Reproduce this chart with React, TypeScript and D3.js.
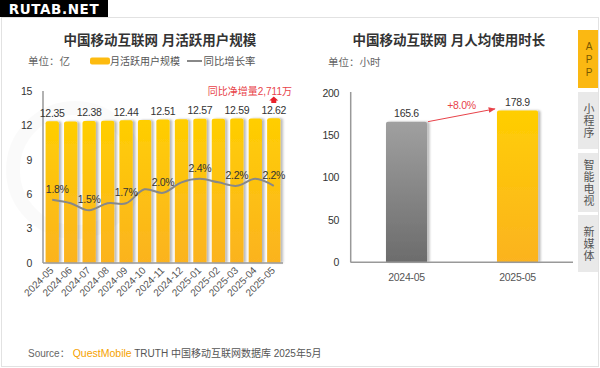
import React from "react";
import * as d3 from "d3";

const months = ["2024-05","2024-06","2024-07","2024-08","2024-09","2024-10","2024-11","2024-12","2025-01","2025-02","2025-03","2025-04","2025-05"];
const mau = [12.35, 12.33, 12.38, 12.41, 12.44, 12.47, 12.51, 12.54, 12.57, 12.58, 12.59, 12.60, 12.62];
const mauLabelShown = [true,false,true,false,true,false,true,false,true,false,true,false,true];
const rates = [1.8, 1.7, 1.5, 1.7, 1.7, 2.1, 2.0, 2.3, 2.4, 2.3, 2.2, 2.4, 2.2];
const rateLabelShown = [true,false,true,false,true,false,true,false,true,false,true,false,true];
const leftTicks = [0, 3, 6, 9, 12, 15];

const periods = ["2024-05", "2025-05"];
const hours = [165.6, 178.9];
const growthLabel = "+8.0%";
const rightTicks = [0, 50, 100, 150, 200];

const tabs = ["APP", "小程序", "智能电视", "新媒体"];

const F = "'Liberation Sans', Arial, 'Noto Sans CJK SC', sans-serif";
const NUM = { fontSize: 10.5, letterSpacing: -0.3 };

function topRoundedBar(x: number, y: number, w: number, h: number, r: number) {
  const rr = Math.min(r, w / 2, h);
  return `M${x},${y + h}V${y + rr}Q${x},${y} ${x + rr},${y}H${x + w - rr}Q${x + w},${y} ${x + w},${y + rr}V${y + h}Z`;
}

export default function App() {
  const xL = d3.scaleBand<string>().domain(months).range([43, 283]).paddingInner(0.28).paddingOuter(0.14);
  const yL = d3.scaleLinear().domain([0, 15]).range([262.7, 91]);
  const yR = d3.scaleLinear().domain([0, 5]).range([262.7, 88]);
  const line = d3
    .line<number>()
    .x((_, i) => (xL(months[i]) as number) + xL.bandwidth() / 2)
    .y((d) => yR(d))
    .curve(d3.curveCatmullRom.alpha(0.5));

  const xP = d3.scaleBand<string>().domain(periods).range([351, 573]).paddingInner(0.63).paddingOuter(0.315);
  const yP = d3.scaleLinear().domain([0, 200]).range([262, 92.5]);

  const arrowX1 = (xP(periods[0]) as number) + xP.bandwidth() + 1;
  const arrowY1 = yP(hours[0]);
  const arrowX2 = (xP(periods[1]) as number) - 2;
  const arrowY2 = yP(hours[1]) - 1.5;

  const tabY = [30, 92, 153, 215];
  const tabH = [58, 57, 59, 57];

  return (
    <svg width={600} height={368} style={{ position: "absolute", left: 0, top: 0, background: "#fff" }} fontFamily={F}>
      <defs>
        <linearGradient id="yg" x1="0" y1="0" x2="0" y2="1">
          <stop offset="0%" stopColor="#FFCE02" />
          <stop offset="100%" stopColor="#FBB320" />
        </linearGradient>
        <linearGradient id="gg" x1="0" y1="0" x2="0" y2="1">
          <stop offset="0%" stopColor="#A0A0A0" />
          <stop offset="100%" stopColor="#6C6C6C" />
        </linearGradient>
        <filter id="sh" x="-30%" y="-10%" width="170%" height="120%">
          <feDropShadow dx="2.5" dy="0" stdDeviation="1.2" floodColor="#000" floodOpacity="0.28" />
        </filter>
        <marker id="ah" viewBox="0 0 10 10" refX="9" refY="5" markerWidth="7" markerHeight="7" orient="auto">
          <path d="M0,1 L10,5 L0,9 Z" fill="#E8434A" />
        </marker>
      </defs>

      <rect x={0} y={0} width={600} height={368} fill="#fff" />
      <rect x={1.5} y={17.5} width={597} height={349} fill="none" stroke="#E2E2E2" strokeWidth={1} />

      <circle cx={75} cy={170} r={62} fill="none" stroke="#000" strokeOpacity={0.018} strokeWidth={14} />

      <rect x={0} y={0} width={108} height={17} fill="#000" />
      <text x={54} y={13.5} textAnchor="middle" fill="#fff" fontSize={13.5} fontWeight="bold" letterSpacing={0.6} fontFamily="'DejaVu Sans', sans-serif">RUTAB.NET</text>

      {/* LEFT CHART */}
      <text x={160} y={45} textAnchor="middle" fontSize={13.5} fontWeight="bold" fill="#333">中国移动互联网 月活跃用户规模</text>
      <text x={28} y={65} fontSize={10.5} fill="#666">单位：亿</text>
      <rect x={90} y={57.5} width={20} height={7} rx={2} fill="#FDBB10" />
      <text x={110} y={65} fontSize={10} fill="#555">月活跃用户规模</text>
      <line x1={187} x2={202} y1={61} y2={61} stroke="#888" strokeWidth={2} />
      <text x={203.5} y={65} fontSize={10.4} fill="#555">同比增长率</text>

      {leftTicks.map((t) => (
        <text key={t} x={32} y={yL(t) + 4} textAnchor="end" {...NUM} fill="#333">{t}</text>
      ))}

      <g filter="url(#sh)">
        {mau.map((v, i) => (
          <path key={i} d={topRoundedBar(xL(months[i]) as number, yL(v), xL.bandwidth(), yL(0) - yL(v), 2)} fill="url(#yg)" />
        ))}
      </g>
      <line x1={43} x2={43} y1={91} y2={263} stroke="#999" strokeWidth={1.5} />
      <line x1={43} x2={283} y1={262.9} y2={262.9} stroke="#999" strokeWidth={1.5} />

      {mau.map((v, i) =>
        mauLabelShown[i] ? (
          <text key={i} x={(xL(months[i]) as number) + xL.bandwidth() / 2} y={yL(v) - 4.5} textAnchor="middle" {...NUM} fill="#333">{v.toFixed(2)}</text>
        ) : null
      )}

      <path d={line(rates) || ""} fill="none" stroke="#888" strokeWidth={2} />
      {rates.map((r, i) =>
        rateLabelShown[i] ? (
          <text key={i} x={(xL(months[i]) as number) + xL.bandwidth() / 2 + (i === 0 ? 5 : 0)} y={yR(r) - 7} textAnchor="middle" {...NUM} fill="#333">{r.toFixed(1)}%</text>
        ) : null
      )}

      <text x={292} y={95} textAnchor="end" fontSize={10} fill="#E8434A">同比净增量2,711万</text>
      {(() => {
        const cx = (xL(months[12]) as number) + xL.bandwidth() / 2;
        return <path d={`M${cx},96.5 L${cx + 4.5},100.5 L${cx + 2.5},100.5 L${cx + 2.5},103 L${cx - 2.5},103 L${cx - 2.5},100.5 L${cx - 4.5},100.5 Z`} fill="#E8222A" />;
      })()}

      {months.map((m) => {
        const cx = (xL(m) as number) + xL.bandwidth() / 2 + 2;
        return (
          <text key={m} transform={`translate(${cx},${271}) rotate(-45)`} textAnchor="end" fontSize={10} fill="#555">{m}</text>
        );
      })}

      <text x={28} y={357} fontSize={10} fill="#666">
        Source：<tspan fill="#F5A200" dx={3} fontSize={10.5}>QuestMobile</tspan><tspan fill="#555"> TRUTH 中国移动互联网数据库 2025年5月</tspan>
      </text>

      {/* RIGHT CHART */}
      <text x={449} y={45} textAnchor="middle" fontSize={13.5} fontWeight="bold" fill="#333">中国移动互联网 月人均使用时长</text>
      <text x={328} y={65.5} fontSize={10.5} fill="#666">单位：小时</text>
      {rightTicks.map((t) => (
        <text key={t} x={339} y={yP(t) + 4} textAnchor="end" {...NUM} fill="#333">{t}</text>
      ))}
      <g filter="url(#sh)">
        {hours.map((h, i) => (
          <path key={i} d={topRoundedBar(xP(periods[i]) as number, yP(h), xP.bandwidth(), yP(0) - yP(h), 2)} fill={i === 0 ? "url(#gg)" : "url(#yg)"} />
        ))}
      </g>
      <line x1={350.7} x2={350.7} y1={92} y2={262.5} stroke="#999" strokeWidth={1.5} />
      <line x1={350.7} x2={573} y1={262.3} y2={262.3} stroke="#999" strokeWidth={1.5} />
      {hours.map((h, i) => (
        <text key={i} x={(xP(periods[i]) as number) + xP.bandwidth() / 2} y={yP(h) - 4.5} textAnchor="middle" {...NUM} fill="#333">{h.toFixed(1)}</text>
      ))}
      {periods.map((p) => (
        <text key={p} x={(xP(p) as number) + xP.bandwidth() / 2} y={280.5} textAnchor="middle" {...NUM} fill="#555">{p}</text>
      ))}
      <line x1={arrowX1} y1={arrowY1} x2={arrowX2} y2={arrowY2} stroke="#E8434A" strokeWidth={1} markerEnd="url(#ah)" />
      <text x={(arrowX1 + arrowX2) / 2} y={109} textAnchor="middle" {...NUM} fill="#E8434A">{growthLabel}</text>

      {tabs.map((t, i) => {
        const chars = t.split("");
        const step = t === "APP" ? 13 : 12;
        const total = step * (chars.length - 1);
        const cy = tabY[i] + tabH[i] / 2;
        return (
          <g key={t}>
            <rect x={578} y={tabY[i]} width={20} height={tabH[i]} fill={i === 0 ? "#FBB812" : "#E9E9E9"} />
            {chars.map((c, j) => (
              <text key={j} x={589} y={cy - total / 2 + j * step + 4} textAnchor="middle" fontSize={i === 0 ? 10 : 11} fill={i === 0 ? "#7A5800" : "#555"}>{c}</text>
            ))}
          </g>
        );
      })}
    </svg>
  );
}
